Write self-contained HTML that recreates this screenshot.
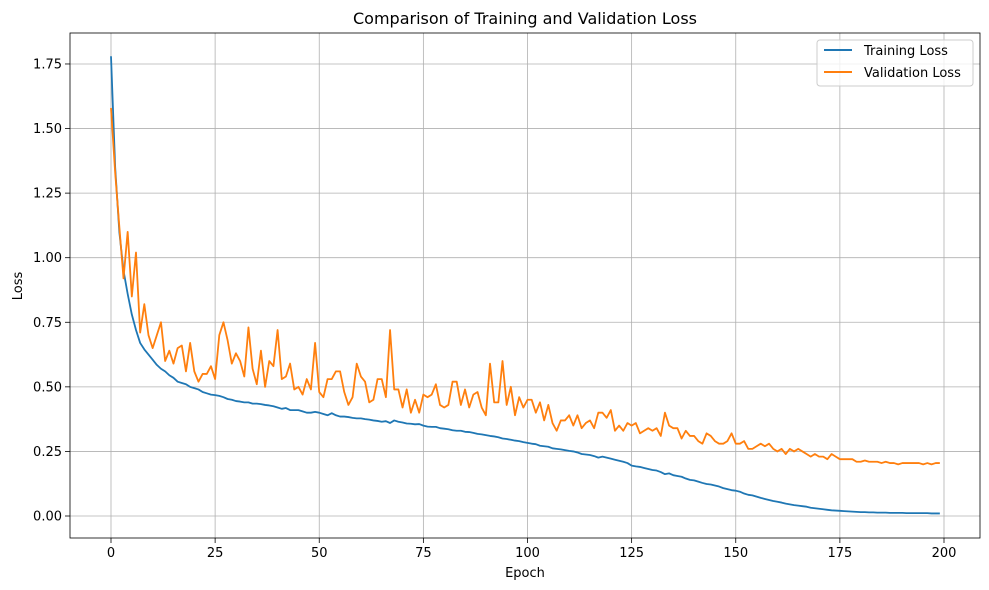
<!DOCTYPE html>
<html><head><meta charset="utf-8"><style>
body{margin:0;background:#fff}
svg{display:block;font-family:"DejaVu Sans","Liberation Sans",sans-serif}
</style></head><body>
<svg id="chart" width="989" height="590">
<rect width="989" height="590" fill="#fff"/>
<g id="grid"></g>
<g id="axes"></g>
<g id="series"></g>
<rect x="70" y="33" width="910" height="505" fill="none" stroke="#000" stroke-width="0.8"/>
<text x="525" y="24" text-anchor="middle" font-size="16">Comparison of Training and Validation Loss</text>
<text x="525" y="577" text-anchor="middle" font-size="13">Epoch</text>
<text x="22" y="286" text-anchor="middle" font-size="13" transform="rotate(-90 22 286)">Loss</text>
<g>
<rect x="817" y="40" width="156" height="46" rx="3" fill="#fff" fill-opacity="0.8" stroke="#ccc"/>
<g><line x1="824" y1="50" x2="852" y2="50" stroke="#1f77b4" stroke-width="2"/><text x="864" y="55" font-size="13">Training Loss</text></g>
<g><line x1="824" y1="72" x2="852" y2="72" stroke="#ff7f0e" stroke-width="2"/><text x="864" y="77" font-size="13">Validation Loss</text></g>
</g>
</svg>
<script>
const xTicks=[0,25,50,75,100,125,150,175,200];
const yTicks=[0,0.25,0.5,0.75,1.0,1.25,1.5,1.75];
const yTickLabels=["0.00","0.25","0.50","0.75","1.00","1.25","1.50","1.75"];
const trainLoss=[1.78,1.35,1.10,0.95,0.86,0.78,0.72,0.67,0.645,0.625,0.605,0.585,0.57,0.56,0.545,0.535,0.52,0.515,0.51,0.50,0.495,0.49,0.48,0.475,0.47,0.468,0.465,0.46,0.453,0.45,0.445,0.443,0.44,0.44,0.435,0.435,0.433,0.43,0.428,0.425,0.42,0.415,0.418,0.41,0.41,0.41,0.405,0.40,0.40,0.403,
0.40,0.395,0.39,0.398,0.39,0.385,0.385,0.383,0.38,0.378,0.378,0.375,0.373,0.37,0.368,0.365,0.367,0.36,0.37,0.365,0.362,0.358,0.357,0.355,0.356,0.35,0.346,0.345,0.345,0.34,0.338,0.336,0.332,0.33,0.33,0.326,0.325,0.322,0.318,0.316,0.313,0.31,0.308,0.305,0.30,0.298,0.295,0.292,0.29,0.286,
0.283,0.28,0.278,0.272,0.27,0.268,0.262,0.26,0.258,0.255,0.252,0.25,0.246,0.24,0.238,0.236,0.232,0.226,0.23,0.226,0.222,0.218,0.214,0.21,0.205,0.195,0.192,0.19,0.186,0.182,0.178,0.176,0.17,0.162,0.165,0.158,0.155,0.152,0.145,0.14,0.138,0.133,0.128,0.124,0.122,0.118,0.114,0.108,0.104,0.10,
0.098,0.094,0.087,0.082,0.08,0.075,0.07,0.066,0.062,0.058,0.055,0.052,0.048,0.045,0.042,0.04,0.038,0.036,0.032,0.03,0.028,0.026,0.024,0.022,0.021,0.02,0.019,0.018,0.017,0.016,0.015,0.015,0.014,0.014,0.013,0.013,0.013,0.012,0.012,0.012,0.012,0.011,0.011,0.011,0.011,0.011,0.011,0.01,0.01,0.01];
const valLoss=[1.58,1.33,1.12,0.92,1.10,0.85,1.02,0.71,0.82,0.70,0.65,0.70,0.75,0.60,0.64,0.59,0.65,0.66,0.56,0.67,0.56,0.52,0.55,0.55,0.58,0.53,0.70,0.75,0.68,0.59,0.63,0.60,0.54,0.73,0.57,0.51,0.64,0.50,0.60,0.58,0.72,0.53,0.54,0.59,0.49,0.50,0.47,0.53,0.49,0.67,
0.48,0.46,0.53,0.53,0.56,0.56,0.48,0.43,0.46,0.59,0.54,0.52,0.44,0.45,0.53,0.53,0.46,0.72,0.49,0.49,0.42,0.49,0.40,0.45,0.40,0.47,0.46,0.47,0.51,0.43,0.42,0.43,0.52,0.52,0.43,0.49,0.42,0.47,0.48,0.42,0.39,0.59,0.44,0.44,0.60,0.43,0.50,0.39,0.46,0.42,
0.45,0.45,0.40,0.44,0.37,0.43,0.36,0.33,0.37,0.37,0.39,0.35,0.39,0.34,0.36,0.37,0.34,0.40,0.40,0.38,0.41,0.33,0.35,0.33,0.36,0.35,0.36,0.32,0.33,0.34,0.33,0.34,0.31,0.40,0.35,0.34,0.34,0.30,0.33,0.31,0.31,0.29,0.28,0.32,0.31,0.29,0.28,0.28,0.29,0.32,
0.28,0.28,0.29,0.26,0.26,0.27,0.28,0.27,0.28,0.26,0.25,0.26,0.24,0.26,0.25,0.26,0.25,0.24,0.23,0.24,0.23,0.23,0.22,0.24,0.23,0.22,0.22,0.22,0.22,0.21,0.21,0.215,0.21,0.21,0.21,0.205,0.21,0.205,0.205,0.2,0.205,0.205,0.205,0.205,0.205,0.2,0.205,0.2,0.205,0.205];
const NS='http://www.w3.org/2000/svg';
const X=v=>111+v*4.165;
const Y=v=>516-v*258.3;
function mk(tag,attrs,parent){const e=document.createElementNS(NS,tag);for(const k in attrs)e.setAttribute(k,attrs[k]);parent.appendChild(e);return e;}
const grid=document.getElementById('grid'),axes=document.getElementById('axes'),series=document.getElementById('series');
xTicks.forEach(t=>{
  const g=mk('line',{x1:X(t),x2:X(t),y1:33,y2:538,stroke:'#b0b0b0','stroke-width':0.8},grid);
  
  
  const tk=mk('line',{x1:X(t),x2:X(t),y1:538,y2:543,stroke:'#000','stroke-width':0.8},axes);
  
  
  const tx=mk('text',{x:X(t),y:557,'text-anchor':'middle','font-size':13},axes);
  tx.textContent=String(t);
  
  
});
yTicks.forEach((t,i)=>{
  const g=mk('line',{x1:70,x2:980,y1:Y(t),y2:Y(t),stroke:'#b0b0b0','stroke-width':0.8},grid);
  
  
  const tk=mk('line',{x1:65,x2:70,y1:Y(t),y2:Y(t),stroke:'#000','stroke-width':0.8},axes);
  
  
  const tx=mk('text',{x:62,y:Y(t)+4.5,'text-anchor':'end','font-size':13},axes);
  tx.textContent=yTickLabels[i];
  
  
});
function line(data,color,name){
  const p=mk('polyline',{points:data.map((v,i)=>X(i)+','+Y(v)).join(' '),fill:'none',stroke:color,'stroke-width':1.8,'stroke-linejoin':'round'},series);
  
  
}
line(trainLoss,'#1f77b4','training-loss-line');
line(valLoss,'#ff7f0e','validation-loss-line');
</script>
</body></html>
